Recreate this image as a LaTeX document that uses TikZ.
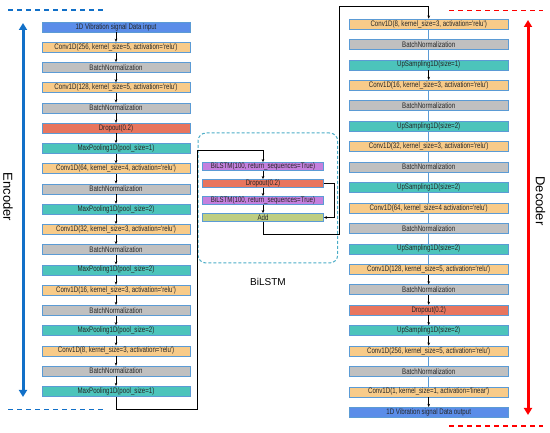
\documentclass[tikz,border=0pt]{standalone}
\usepackage{fontspec}
\setmainfont{Liberation Sans}
\newfontfamily\boxfont[FakeStretch=0.765,Ligatures=TeXOff]{Liberation Sans}
\usetikzlibrary{arrows.meta}
\definecolor{ioc}{RGB}{91,141,233}
\definecolor{convc}{RGB}{248,203,137}
\definecolor{bnc}{RGB}{192,192,192}
\definecolor{dropc}{RGB}{232,117,94}
\definecolor{poolc}{RGB}{76,196,187}
\definecolor{lstmc}{RGB}{196,128,222}
\definecolor{addc}{RGB}{190,206,130}
\definecolor{bordc}{RGB}{91,155,213}
\definecolor{encblue}{RGB}{17,112,200}
\definecolor{decred}{RGB}{255,0,0}
\definecolor{grpc}{RGB}{75,172,198}
\begin{document}
\begin{tikzpicture}[x=1pt,y=-1pt,
  box/.style={draw=bordc, line width=0.6pt, minimum height=10pt, inner sep=0pt,
    font=\boxfont\fontsize{8}{8}\selectfont, text=black!85},
  enc/.style={box, minimum width=148pt},
  dec/.style={box, minimum width=159pt},
  bil/.style={box, minimum width=121pt, minimum height=8pt},
  io/.style={fill=ioc}, conv/.style={fill=convc}, bn/.style={fill=bnc},
  drop/.style={fill=dropc}, pool/.style={fill=poolc}, lstm/.style={fill=lstmc},
  addb/.style={fill=addc},
  arr/.style={-{Stealth[length=3.2pt,width=2.6pt]}, line width=0.55pt, black},
  bl/.style={draw=bordc, line width=0.6pt},
  bigarr/.style={{Triangle[length=7pt,width=8pt]}-{Triangle[length=7pt,width=8pt]}, line width=3pt},
  dline/.style={line width=1.3pt, dash pattern=on 5pt off 4pt},
  biglab/.style={font=\fontsize{13}{13}\selectfont, rotate=-90, inner sep=0pt}]
\useasboundingbox (0,0) rectangle (550,433);

% Encoder
\node[enc,io]   (e1)  at (116,27)     {1D Vibration signal Data input};
\node[enc,conv] (e2)  at (116,47.24)  {Conv1D(256, kernel\_size=5, activation='relu')};
\node[enc,bn]   (e3)  at (116,67.48)  {BatchNormalization};
\node[enc,conv] (e4)  at (116,87.72)  {Conv1D(128, kernel\_size=5, activation='relu')};
\node[enc,bn]   (e5)  at (116,107.96) {BatchNormalization};
\node[enc,drop] (e6)  at (116,128.2)  {Dropout(0.2)};
\node[enc,pool] (e7)  at (116,148.44) {MaxPooling1D(pool\_size=1)};
\node[enc,conv] (e8)  at (116,168.68) {Conv1D(64, kernel\_size=4, activation='relu')};
\node[enc,bn]   (e9)  at (116,188.92) {BatchNormalization};
\node[enc,pool] (e10) at (116,209.16) {MaxPooling1D(pool\_size=2)};
\node[enc,conv] (e11) at (116,229.4)  {Conv1D(32, kernel\_size=3, activation='relu')};
\node[enc,bn]   (e12) at (116,249.64) {BatchNormalization};
\node[enc,pool] (e13) at (116,269.88) {MaxPooling1D(pool\_size=2)};
\node[enc,conv] (e14) at (116,290.12) {Conv1D(16, kernel\_size=3, activation='relu')};
\node[enc,bn]   (e15) at (116,310.36) {BatchNormalization};
\node[enc,pool] (e16) at (116,330.6)  {MaxPooling1D(pool\_size=2)};
\node[enc,conv] (e17) at (116,350.84) {Conv1D(8, kernel\_size=3, activation='relu')};
\node[enc,bn]   (e18) at (116,371.08) {BatchNormalization};
\node[enc,pool] (e19) at (116,391.32) {MaxPooling1D(pool\_size=1)};
\foreach \i in {1,...,18}{\pgfmathtruncatemacro\j{\i+1}\draw[arr] (e\i.south) -- (e\j.north);}

% BiLSTM group
\node[draw=grpc, line width=1pt, dash pattern=on 3pt off 2pt, rounded corners=8pt,
  minimum width=139.7pt, minimum height=130pt, inner sep=0pt] (grp) at (267.85,198) {};
\node[bil,lstm] (b1) at (263,166.5) {BiLSTM(100, return\_sequences=True)};
\node[bil,drop] (b2) at (263,183.5) {Dropout(0.2)};
\node[bil,lstm] (b3) at (263,200.5) {BiLSTM(100, return\_sequences=True)};
\node[bil,addb] (b4) at (263,217.5) {Add};
\draw[arr] (b1) -- (b2);
\draw[arr] (b2) -- (b3);
\draw[arr] (b3) -- (b4);
\draw[arr] (b2.east) -- ++(10,0) |- (b4.east);
\node[font=\fontsize{10}{10}\selectfont, inner sep=0pt] (bilab) at (268,282) {BiLSTM};

% Decoder
\node[dec,conv] (d1)  at (428.7,24)     {Conv1D(8, kernel\_size=3, activation='relu')};
\node[dec,bn]   (d2)  at (428.7,44.44)  {BatchNormalization};
\node[dec,pool] (d3)  at (428.7,64.88)  {UpSampling1D(size=1)};
\node[dec,conv] (d4)  at (428.7,85.32)  {Conv1D(16, kernel\_size=3, activation='relu')};
\node[dec,bn]   (d5)  at (428.7,105.76) {BatchNormalization};
\node[dec,pool] (d6)  at (428.7,126.2)  {UpSampling1D(size=2)};
\node[dec,conv] (d7)  at (428.7,146.64) {Conv1D(32, kernel\_size=3, activation='relu')};
\node[dec,bn]   (d8)  at (428.7,167.08) {BatchNormalization};
\node[dec,pool] (d9)  at (428.7,187.52) {UpSampling1D(size=2)};
\node[dec,conv] (d10) at (428.7,207.96) {Conv1D(64, kernel\_size=4 activation='relu')};
\node[dec,bn]   (d11) at (428.7,228.4)  {BatchNormalization};
\node[dec,pool] (d12) at (428.7,248.84) {UpSampling1D(size=2)};
\node[dec,conv] (d13) at (428.7,269.28) {Conv1D(128, kernel\_size=5, activation='relu')};
\node[dec,bn]   (d14) at (428.7,289.72) {BatchNormalization};
\node[dec,drop] (d15) at (428.7,310.16) {Dropout(0.2)};
\node[dec,pool] (d16) at (428.7,330.6)  {UpSampling1D(size=2)};
\node[dec,conv] (d17) at (428.7,351.04) {Conv1D(256, kernel\_size=5, activation='relu')};
\node[dec,bn]   (d18) at (428.7,371.48) {BatchNormalization};
\node[dec,conv] (d19) at (428.7,391.92) {Conv1D(1, kernel\_size=1, activation='linear')};
\node[dec,io]   (d20) at (428.7,412.36) {1D Vibration signal Data output};
\foreach \a/\b in {1/2,2/3,4/5,5/6,6/7,7/8,8/9,9/10,10/11,11/12,12/13,17/18,18/19}
  \draw[bl] (d\a.south) -- (d\b.north);
\foreach \a/\b in {3/4,13/14,14/15,15/16,16/17,19/20}
  \draw[arr] (d\a.south) -- (d\b.north);

% Main connectors
\coordinate (p1) at (197,409);
\coordinate (p2) at (197,150);
\draw[arr] (e19.south) |- (p1) -- (p2) -| (b1.north);
\coordinate (q1) at (339,234);
\coordinate (q2) at (339,6);
\draw[arr] (b4.south) |- (q1) -- (q2) -| (d1.north);

% Encoder / Decoder markers
\coordinate (ea1) at (23,23);
\coordinate (ea2) at (23,397);
\draw[bigarr, encblue] (ea1) -- (ea2);
\node[biglab] (enclab) at (8,197) {Encoder};
\coordinate (et1) at (8,10);
\coordinate (et2) at (103,10);
\coordinate (eb1) at (8,409.5);
\coordinate (eb2) at (103,409.5);
\draw[dline, encblue] (et1) -- (et2);
\draw[dline, encblue] (eb1) -- (eb2);

\coordinate (da1) at (528,20);
\coordinate (da2) at (528,415);
\draw[bigarr, decred] (da1) -- (da2);
\node[biglab] (declab) at (540.5,201) {Decoder};
\coordinate (dt1) at (449,10.7);
\coordinate (dt2) at (543,10.7);
\coordinate (db1) at (449,426);
\coordinate (db2) at (543,426);
\draw[dline, decred] (dt1) -- (dt2);
\draw[dline, decred] (db1) -- (db2);
\end{tikzpicture}
\end{document}
